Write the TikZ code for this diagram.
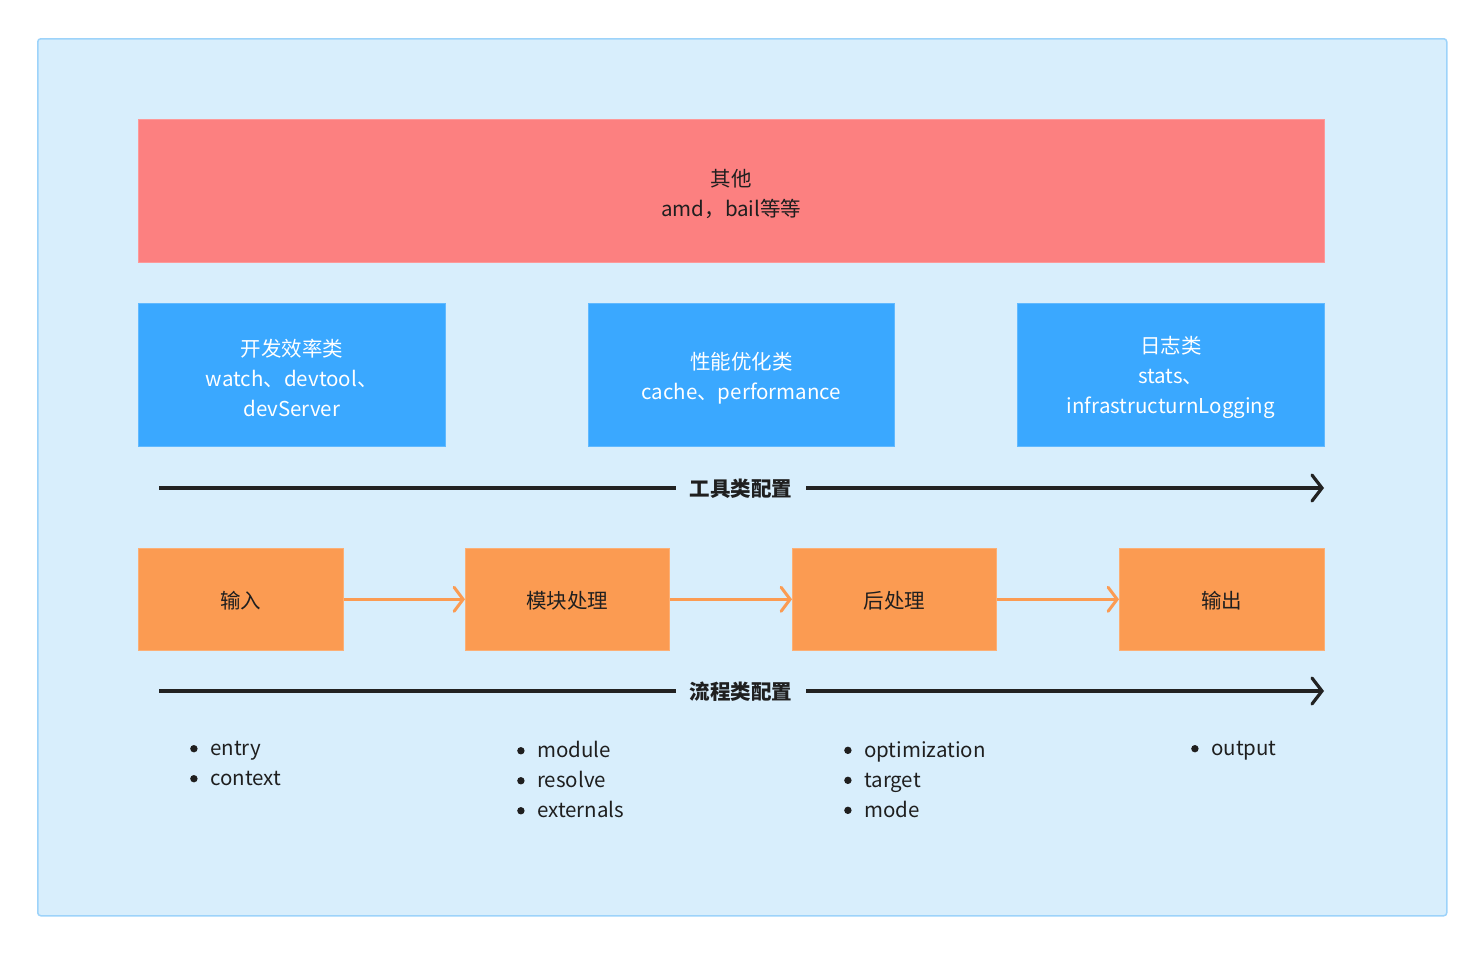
\documentclass[tikz,border=0pt]{standalone}
\usepackage{fontspec}
\setmainfont{Noto Sans CJK SC}
\usetikzlibrary{arrows.meta}
\definecolor{bgfill}{HTML}{D8EEFC}
\definecolor{bgline}{HTML}{9DD3FA}
\definecolor{redbox}{HTML}{FC8080}
\definecolor{bluebox}{HTML}{3AA8FF}
\definecolor{orangebox}{HTML}{FB9B52}
\definecolor{darkline}{HTML}{222222}
\definecolor{txt}{HTML}{1F1F1F}
\tikzset{
  box/.style={draw=#1!80!white, line width=0.6pt, fill=#1, inner sep=0pt, anchor=north west},
  boxtext/.style={align=center, font=\fontsize{20.5}{30}\selectfont, yshift=-3pt},
  steptext/.style={align=center, font=\fontsize{20.5}{30}\selectfont, yshift=-1.5pt, text=txt},
  mainarrow/.style={draw=darkline, line width=3.2pt, -{Straight Barb[length=10pt, width=26pt, line width=3.2pt, line cap=round]}},
  steparrow/.style={draw=orangebox, line width=3pt, -{Straight Barb[length=9pt, width=24pt, line width=3pt, line cap=round]}},
  axislabel/.style={font=\fontsize{20.5}{24}\selectfont\bfseries, text=txt, fill=bgfill, inner xsep=14pt, yshift=-1pt},
  bullets/.style={anchor=north west, align=left, font=\fontsize{20.5}{30}\selectfont, text=txt, inner sep=0pt},
}
\newcommand{\bitem}{\makebox[20pt][l]{\raisebox{0.15em}{\tikz\fill[txt] (0,0) circle (3.7pt);}}}
\begin{document}
\begin{tikzpicture}[x=1pt,y=-1pt]
\useasboundingbox (0,0) rectangle (1478,962);
\node[draw=bgline, fill=bgfill, line width=1.5pt, rounded corners=3pt, minimum width=1409pt, minimum height=877pt, anchor=north west, inner sep=0pt] (frame) at (37,38) {};
% top red
\node[box=redbox, minimum width=1186pt, minimum height=143pt] (other) at (138,119) {};
\node[boxtext, text=txt] (othert) at (other.center) {其他\\amd，bail等等};
% blue
\node[box=bluebox, minimum width=307pt, minimum height=143pt] (dev) at (138,303) {};
\node[boxtext, text=white] (devt) at (dev.center) {开发效率类\\watch、devtool、\\devServer};
\node[box=bluebox, minimum width=306pt, minimum height=143pt] (perf) at (588,303) {};
\node[boxtext, text=white] (perft) at (perf.center) {性能优化类\\cache、performance};
\node[box=bluebox, minimum width=307pt, minimum height=143pt] (log) at (1017,303) {};
\node[boxtext, text=white] (logt) at (log.center) {日志类\\stats、\\infrastructurnLogging};
% tool axis
\coordinate (t1) at (159,488);
\coordinate (t2) at (1324,488);
\draw[mainarrow] (t1) -- (t2);
\node[axislabel] (toollab) at (741,488) {工具类配置};
% orange
\node[box=orangebox, minimum width=205pt, minimum height=102pt] (in) at (138,548) {};
\node[steptext] (int) at (in.center) {输入};
\node[box=orangebox, minimum width=204pt, minimum height=102pt] (mod) at (465,548) {};
\node[steptext] (modt) at (mod.center) {模块处理};
\node[box=orangebox, minimum width=204pt, minimum height=102pt] (post) at (792,548) {};
\node[steptext] (postt) at (post.center) {后处理};
\node[box=orangebox, minimum width=205pt, minimum height=102pt] (out) at (1119,548) {};
\node[steptext] (outt) at (out.center) {输出};
\draw[steparrow] (in.east) -- (mod.west);
\draw[steparrow] (mod.east) -- (post.west);
\draw[steparrow] (post.east) -- (out.west);
% process axis
\coordinate (p1) at (159,691);
\coordinate (p2) at (1324,691);
\draw[mainarrow] (p1) -- (p2);
\node[axislabel] (proclab) at (741,691) {流程类配置};
% bullets
\node[bullets] (b1) at (190,741) {\bitem entry\\\bitem context};
\node[bullets] (b2) at (517,741) {\bitem module\\\bitem resolve\\\bitem externals};
\node[bullets] (b3) at (844,741) {\bitem optimization\\\bitem target\\\bitem mode};
\node[bullets] (b4) at (1191,741) {\bitem output};
\end{tikzpicture}
\end{document}
